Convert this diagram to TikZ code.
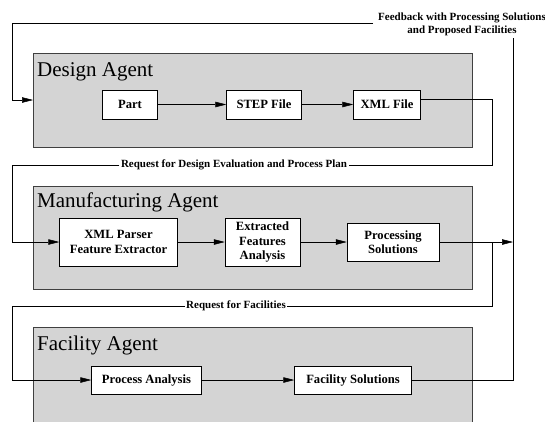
\documentclass[tikz,border=0pt]{standalone}
\usepackage{fontspec}
\setmainfont{Liberation Serif}
\usepackage{tikz}
\usetikzlibrary{arrows.meta,positioning}

\tikzset{
  agent/.style={draw=black!75, fill=black!17, line width=0.5pt},
  agenttitle/.style={anchor=base west, inner sep=0pt, font=\fontsize{21}{23}\selectfont},
  task/.style={draw, fill=white, line width=0.5pt, align=center, inner sep=1pt,
    font=\bfseries\fontsize{12.6}{14.6}\selectfont},
  msg/.style={fill=white, inner sep=1.5pt, align=center, font=\bfseries\fontsize{11}{13}\selectfont},
  flow/.style={line width=0.5pt, -{Triangle[length=11pt,width=5.5pt]}},
  wire/.style={line width=0.5pt}
}

\begin{document}
\begin{tikzpicture}[x=1pt,y=-1pt]
\useasboundingbox (0,0) rectangle (545,421);

% agent panels
\draw[agent] (33,53) rectangle (472,147);
\draw[agent] (33,186) rectangle (472,289);
\draw[agent] (33,327) rectangle (472,440);
\node[agenttitle] (designT) at (37,76) {Design Agent};
\node[agenttitle] (manufT) at (37,207) {Manufacturing Agent};
\node[agenttitle] (facT) at (37,350) {Facility Agent};
\coordinate (designin) at (33,100);

% design agent
\node[task, minimum width=55pt, minimum height=29pt] (part) at (130,104.5) {Part};
\node[task, minimum width=75pt, minimum height=29pt] (step) at (264,104.5) {STEP File};
\node[task, minimum width=67pt, minimum height=29pt] (xmlf) at (387,104.5) {XML File};
\draw[flow] (part) -- (step);
\draw[flow] (step) -- (xmlf);

% manufacturing agent
\node[task, minimum width=118pt, minimum height=48pt] (parser) at (118.5,242) {XML Parser\\Feature Extractor};
\node[task, minimum width=75pt, minimum height=48pt] (extract) at (262.5,242) {Extracted\\Features\\Analysis};
\node[task, minimum width=92pt, minimum height=38pt] (procsol) at (393,242) {Processing\\Solutions};
\draw[flow] (parser) -- (extract);
\draw[flow] (extract) -- (procsol);

% facility agent
\node[task, minimum width=110pt, minimum height=28pt] (procan) at (146.5,380) {Process Analysis};
\node[task, minimum width=117pt, minimum height=28pt] (facsol) at (353,380) {Facility Solutions};
\draw[flow] (procan) -- (facsol);

% messages between agents
\node[msg] (reqdesign) at (234,165) {Request for Design Evaluation and Process Plan};
\node[msg] (reqfac) at (236,306) {Request for Facilities};
\node[msg, inner sep=0pt] (feedback) at (462,24) {Feedback with Processing Solutions\\and Proposed Facilities};

\draw[wire] (xmlf.east |- 0,99) -- (492,99) -- (492,165) -- (reqdesign.east);
\draw[flow] (reqdesign.west) -- (12,165) -- (12,242) -- (parser.west);

\draw[flow] (procsol.east) -- (513,242);
\draw[wire] (492,242) -- (492,306) -- (reqfac.east);
\draw[flow] (reqfac.west) -- (12,306) -- (12,380) -- (procan.west);

\draw[wire] (facsol.east) -- (513,380) -- (513,38);
\draw[flow] (373,23) -- (12,23) -- (12,100) -- (designin);
\end{tikzpicture}
\end{document}
